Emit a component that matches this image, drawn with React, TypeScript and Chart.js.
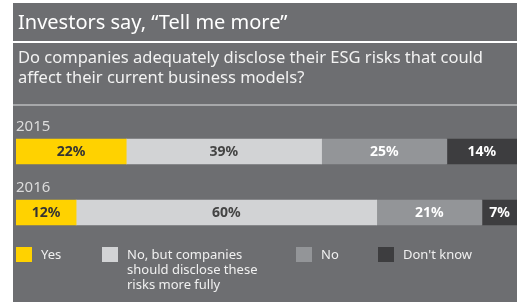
import React, { useEffect, useRef } from "react";
import { Chart, registerables } from "chart.js";

Chart.register(...registerables);

const years = ["2015", "2016"];
const seriesLabels = ["Yes", "No, but companies should disclose these risks more fully", "No", "Don't know"];
const legendLines = [["Yes"], ["No, but companies", "should disclose these", "risks more fully"], ["No"], ["Don't know"]];
const yesValues = [22, 12];
const noButValues = [39, 60];
const noValues = [25, 21];
const dontKnowValues = [14, 7];
const seriesColors = ["#ffd200", "#d2d3d5", "#939598", "#3d3d3f"];
const labelColors = ["#333333", "#444444", "#ffffff", "#ffffff"];
const title = "Investors say, \u201cTell me more\u201d";
const subtitle = ["Do companies adequately disclose their ESG risks that could", "affect their current business models?"];

const FONT = "'Noto Sans', 'Open Sans', sans-serif";

const decorPlugin = {
  id: "decor",
  beforeDraw(chart: any) {
    const { ctx, width, height } = chart;
    ctx.save();
    ctx.fillStyle = "#fff";
    ctx.fillRect(0, 0, width, height);
    ctx.fillStyle = "#6d6e71";
    ctx.fillRect(13, 3, width - 13, height - 3);
    // title
    ctx.fillStyle = "#ffffff";
    ctx.font = `20px ${FONT}`;
    ctx.textBaseline = "alphabetic";
    ctx.textAlign = "left";
    ctx.fillText(title, 18, 29);
    ctx.fillStyle = "#ffffff";
    ctx.fillRect(13, 41, width - 13, 2);
    ctx.fillStyle = "#f2f2f2";
    ctx.font = `16.5px ${FONT}`;
    ctx.fillText(subtitle[0], 18, 63);
    ctx.fillText(subtitle[1], 18, 83);
    ctx.fillStyle = "#a7a8aa";
    ctx.fillRect(13, 104, width - 13, 2);
    // year labels
    const yScale = chart.scales.y;
    ctx.fillStyle = "#dcdcdc";
    ctx.font = `15px ${FONT}`;
    years.forEach((yr, i) => {
      const yc = yScale.getPixelForValue(i);
      ctx.fillText(yr, 16, yc - 21);
    });
    // legend
    const legendX = [16, 102, 296, 378];
    ctx.font = `13px ${FONT}`;
    seriesLabels.forEach((_, i) => {
      ctx.fillStyle = seriesColors[i];
      ctx.fillRect(legendX[i], 247, 16, 15);
      ctx.fillStyle = "#f0f0f0";
      legendLines[i].forEach((ln, j) => {
        ctx.fillText(ln, legendX[i] + 25, 259 + j * 15);
      });
    });
    ctx.restore();
  },
  afterDatasetsDraw(chart: any) {
    const { ctx } = chart;
    ctx.save();
    ctx.font = `bold 14px ${FONT}`;
    ctx.textAlign = "center";
    ctx.textBaseline = "middle";
    chart.data.datasets.forEach((ds: any, di: number) => {
      const meta = chart.getDatasetMeta(di);
      meta.data.forEach((el: any, i: number) => {
        const cx = (el.x + el.base) / 2;
        ctx.fillStyle = labelColors[di];
        ctx.fillText(`${ds.data[i]}%`, cx, el.y + 1);
      });
    });
    ctx.restore();
  },
};

export default function App() {
  const ref = useRef<HTMLCanvasElement>(null);
  useEffect(() => {
    const allValues = [yesValues, noButValues, noValues, dontKnowValues];
    const chart = new Chart(ref.current!, {
      type: "bar",
      data: {
        labels: years,
        datasets: seriesLabels.map((lbl, i) => ({
          label: lbl,
          data: allValues[i],
          backgroundColor: seriesColors[i],
          borderWidth: 0,
          barThickness: 25,
        })),
      },
      options: {
        indexAxis: "y",
        responsive: false,
        animation: false,
        layout: { padding: { left: 16, right: 0, top: 121, bottom: 59 } },
        scales: {
          x: { stacked: true, min: 0, max: 100, display: false },
          y: { stacked: true, display: false },
        },
        plugins: { legend: { display: false }, tooltip: { enabled: false }, title: { display: false } },
      },
      plugins: [decorPlugin],
    } as any);
    return () => chart.destroy();
  }, []);
  return (
    <div style={{ position: "fixed", left: 0, top: 0, width: 517, height: 302 }}>
      <canvas ref={ref} width={517} height={302} style={{ display: "block" }} />
    </div>
  );
}
